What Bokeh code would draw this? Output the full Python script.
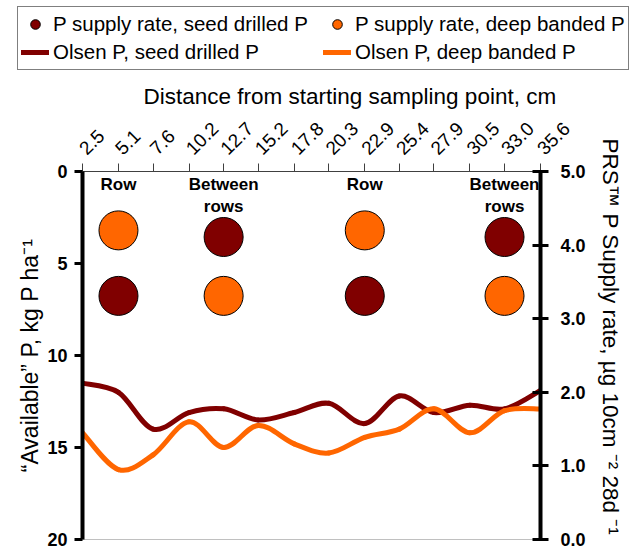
import math
from bokeh.plotting import figure
from bokeh.layouts import column
from bokeh.models import (Range1d, LinearAxis, FixedTicker, NumeralTickFormatter,
                          Legend, LegendItem, ColumnDataSource, Title)
from bokeh.core.properties import value
from bokeh.embed import file_html
from bokeh.resources import INLINE

# ---------------- data ----------------
distance_labels = ["2.5", "5.1", "7.6", "10.2", "12.7", "15.2", "17.8",
                   "20.3", "22.9", "25.4", "27.9", "30.5", "33.0", "35.6"]
olsen_seed = [11.5, 12.0, 14.0, 13.1, 12.9, 13.5, 13.1, 12.6, 13.7, 12.2, 13.1, 12.7, 12.9, 11.9]
olsen_deep = [14.2, 16.2, 15.4, 13.6, 15.0, 13.8, 14.8, 15.3, 14.45, 14.0, 12.9, 14.2, 13.0, 12.9]

site_labels = ["Row", "Between\nrows", "Row", "Between\nrows"]
site_distance = ["5.1", "12.7", "22.9", "33.0"]
prs_seed = [3.31, 4.11, 3.31, 4.11]
prs_deep = [4.20, 3.31, 4.20, 3.31]

left_ticks = [0, 5, 10, 15, 20]
right_ticks = [0, 1, 2, 3, 4, 5]

series_names = ["P supply rate, seed drilled P", "P supply rate, deep banded P",
                "Olsen P, seed drilled P", "Olsen P, deep banded P"]

DARK = "#800000"
ORANGE = "#FF6600"
FONT = "Liberation Sans"

dist = [float(s) for s in distance_labels]
site_x = [float(s) for s in site_distance]

LEG_H = 72


def smooth_segments(xs, ys):
    """Cubic Bezier segments (Catmull-Rom style, like a smoothed line)."""
    n = len(xs)
    d = dict(x0=[], y0=[], x1=[], y1=[], cx0=[], cy0=[], cx1=[], cy1=[])
    for i in range(n - 1):
        xm, ym = (xs[i - 1], ys[i - 1]) if i > 0 else (xs[i], ys[i])
        xp, yp = (xs[i + 2], ys[i + 2]) if i + 2 < n else (xs[i + 1], ys[i + 1])
        d["x0"].append(xs[i]); d["y0"].append(ys[i])
        d["x1"].append(xs[i + 1]); d["y1"].append(ys[i + 1])
        d["cx0"].append(xs[i] + (xs[i + 1] - xm) / 6.0)
        d["cy0"].append(ys[i] + (ys[i + 1] - ym) / 6.0)
        d["cx1"].append(xs[i + 1] - (xp - xs[i]) / 6.0)
        d["cy1"].append(ys[i + 1] - (yp - ys[i]) / 6.0)
    return ColumnDataSource(d)


def add_series(fig, **kw):
    src_seed = smooth_segments(dist, olsen_seed)
    src_deep = smooth_segments(dist, olsen_deep)
    rl1 = fig.bezier(x0="x0", y0="y0", x1="x1", y1="y1", cx0="cx0", cy0="cy0",
                     cx1="cx1", cy1="cy1", source=src_seed, line_color=DARK,
                     line_width=5, line_cap="round", **kw)
    rl2 = fig.bezier(x0="x0", y0="y0", x1="x1", y1="y1", cx0="cx0", cy0="cy0",
                     cx1="cx1", cy1="cy1", source=src_deep, line_color=ORANGE,
                     line_width=5, line_cap="round", **kw)
    rp1 = fig.scatter(x=site_x, y=prs_seed, y_range_name="prs", size=39,
                      fill_color=DARK, line_color="black", line_width=1, **kw)
    rp2 = fig.scatter(x=site_x, y=prs_deep, y_range_name="prs", size=39,
                      fill_color=ORANGE, line_color="black", line_width=1, **kw)
    return rp1, rp2, rl1, rl2


# ---------------- main chart ----------------
p = figure(width=631, height=550 - LEG_H, output_backend="svg", toolbar_location=None,
           x_range=Range1d(dist[0], dist[-1]), y_range=Range1d(20, 0),
           x_axis_location="above", min_border_left=82, min_border_right=88,
           min_border_top=171 - LEG_H, min_border_bottom=11)
p.frame_align = False
p.extra_y_ranges = {"prs": Range1d(0, 5)}
p.xgrid.visible = False
p.ygrid.visible = False
p.outline_line_color = "#c0c0c0"
p.outline_line_width = 1
p.background_fill_color = "white"
p.border_fill_color = "white"

# top axis
xa = p.xaxis[0]
xa.ticker = FixedTicker(ticks=dist, minor_ticks=[])
xa.formatter = NumeralTickFormatter(format="0.0")
xa.major_label_orientation = math.pi / 4
xa.major_label_text_font = FONT
xa.major_label_text_font_size = "19px"
xa.major_label_text_color = "black"
xa.axis_line_color = "#404040"
xa.axis_line_width = 1
xa.major_tick_line_color = "#404040"
xa.major_tick_out = 8
xa.major_tick_in = 0
xa.major_label_standoff = 12

top_title = Title(text="Distance from starting sampling point, cm", align="left",
                  offset=61, vertical_align="middle", standoff=8,
                  text_font=FONT, text_font_size="22.5px", text_font_style="normal",
                  text_color="black")
p.add_layout(top_title, "above")

# left axis
ya = p.yaxis[0]
ya.ticker = FixedTicker(ticks=left_ticks, minor_ticks=[])
ya.axis_line_width = 4
ya.axis_line_color = "black"
ya.major_tick_line_width = 3
ya.major_tick_line_color = "black"
ya.major_tick_out = 8
ya.major_tick_in = 0
ya.major_label_text_font = FONT
ya.major_label_text_font_style = "bold"
ya.major_label_text_font_size = "18px"
ya.major_label_text_color = "black"
ya.major_label_standoff = 7
ya.axis_label = "\u201cAvailable\u201d P, kg P ha\u207b\u00b9"
ya.axis_label_text_font = FONT
ya.axis_label_text_font_size = "23px"
ya.axis_label_text_font_style = "normal"
ya.axis_label_text_color = "black"
ya.axis_label_standoff = 1

# right axis
ra = LinearAxis(y_range_name="prs")
ra.ticker = FixedTicker(ticks=right_ticks, minor_ticks=[])
ra.formatter = NumeralTickFormatter(format="0.0")
ra.axis_line_width = 4
ra.axis_line_color = "black"
ra.major_tick_line_width = 3
ra.major_tick_line_color = "black"
ra.major_tick_out = 8
ra.major_tick_in = 8
ra.major_label_text_font = FONT
ra.major_label_text_font_style = "bold"
ra.major_label_text_font_size = "18px"
ra.major_label_text_color = "black"
ra.major_label_standoff = 12
p.add_layout(ra, "right")

right_title = Title(text="PRS\u2122 P Supply rate, \u00b5g 10cm \u207b\u00b2 28d \u207b\u00b9",
                    align="left", offset=-33, vertical_align="middle", standoff=16,
                    text_font=FONT, text_font_size="22.5px", text_font_style="normal",
                    text_color="black")
p.add_layout(right_title, "right")

add_series(p)

# position labels
p.text(x=site_x, y=[0.2] * len(site_x), text=site_labels, text_align="center",
       text_baseline="top", text_font=value(FONT), text_font_style="bold",
       text_font_size="17px", text_color="black", text_line_height=1.15)

# ---------------- legend strip ----------------
lg = figure(width=631, height=LEG_H, output_backend="svg", toolbar_location=None,
            x_range=Range1d(dist[0], dist[-1]), y_range=Range1d(20, 0),
            x_axis_location=None, y_axis_location=None,
            min_border_left=0, min_border_right=0, min_border_top=0, min_border_bottom=0)
lg.frame_align = False
lg.extra_y_ranges = {"prs": Range1d(0, 5)}
lg.xgrid.visible = False
lg.ygrid.visible = False
lg.outline_line_color = None
lg.background_fill_color = "white"
lg.border_fill_color = "white"
leg_renderers = add_series(lg, visible=False)

legend = Legend(items=[LegendItem(label=name, renderers=[r])
                       for name, r in zip(series_names, leg_renderers)],
                location=(17, LEG_H - 70), orientation="horizontal", ncols=2,
                glyph_width=28, glyph_height=24, label_height=28, label_width=270,
                spacing=0, padding=3, label_standoff=4, margin=0,
                border_line_color="black", border_line_width=1,
                background_fill_color="white", background_fill_alpha=1,
                inactive_fill_alpha=0,
                label_text_font=FONT, label_text_font_size="20.5px",
                label_text_color="black")
lg.add_layout(legend)

layout = column(lg, p, spacing=0)
open("out.html", "w").write(file_html(layout, INLINE))
